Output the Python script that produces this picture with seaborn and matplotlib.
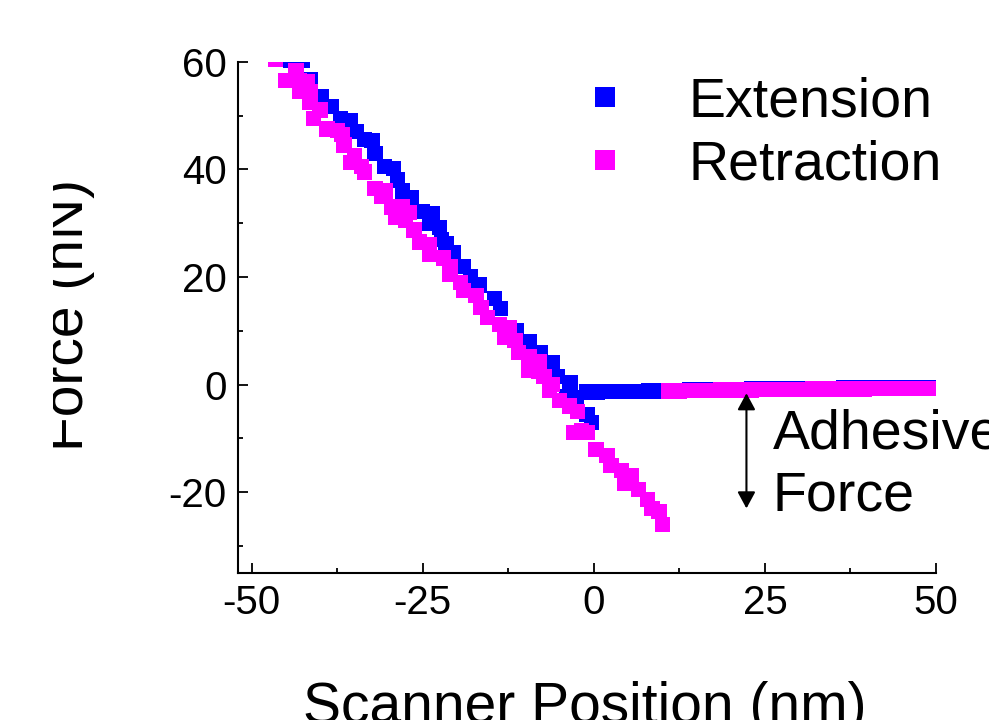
import numpy as np
import pandas as pd
import matplotlib
matplotlib.use('Agg')

import matplotlib.pyplot as plt
import seaborn as sns
from matplotlib.lines import Line2D
from matplotlib.ticker import MultipleLocator
from matplotlib.transforms import Bbox, TransformedBbox

# ================= DATA =================

# Extension (approach) curve: contact part, then the flat part
ext_x = [-44.3, -42.6, -41.5, -39.8, -38.3, -37.0, -35.6, -34.7, -33.5, -32.4,
         -32.0, -30.6, -29.3, -28.7, -28.0, -26.7, -25.0, -23.6, -24.0, -22.6,
         -22.3, -21.6, -20.5, -19.0, -18.0, -16.8, -14.5, -13.6, -11.4, -9.5,
         -7.8, -6.0, -5.3, -3.5, -4.0, -2.6, -2.5, -1.0, -0.3,
         -1.0, 0.5, 2.0, 3.5, 5.0, 6.5, 8.0, 9.5, 11.0, 12.5,
         14.0, 15.5, 17.0, 18.5, 20.0, 21.5, 23.0, 24.5, 26.0, 27.5,
         29.0, 30.5, 32.0, 33.5, 35.0, 36.5, 38.0, 39.5, 41.0, 42.5,
         44.0, 45.5, 47.0, 48.0, 49.0]
ext_f = [60.3, 60.3, 56.6, 53.5, 51.7, 49.5, 49.0, 47.0, 45.5, 45.3,
         43.0, 40.5, 40.2, 38.0, 36.0, 34.7, 32.2, 31.8, 30.0, 29.2,
         27.0, 26.2, 24.5, 22.0, 20.0, 18.5, 16.0, 14.2, 10.1, 8.0,
         6.0, 4.0, 1.5, 0.3, -2.3, -2.5, -3.6, -5.5, -7.0,
         -1.4, -1.4, -1.3, -1.3, -1.3, -1.3, -1.2, -1.2, -1.1, -1.1,
         -1.0, -1.0, -1.0, -0.9, -0.9, -0.9, -0.8, -0.8, -0.8, -0.8,
         -0.7, -0.7, -0.7, -0.7, -0.7, -0.6, -0.6, -0.6, -0.6, -0.6,
         -0.6, -0.6, -0.6, -0.6, -0.6]

# Retraction curve: contact part down to pull-off, then the flat part
ret_x = [-46.5, -45.0, -43.5, -43.0, -41.8, -43.0, -41.5, -41.5, -40.0, -41.0,
         -39.0, -37.5, -36.8, -36.5, -35.0, -35.5, -34.0, -33.5, -32.0, -30.5,
         -31.0, -29.5, -28.0, -27.0, -29.0, -27.5, -26.3, -25.5, -24.0, -24.0,
         -22.0, -21.0, -21.0, -19.5, -19.0, -17.2, -16.5, -15.5, -13.8, -12.3,
         -13.0, -11.5, -11.0, -9.5, -8.0, -9.5, -8.0, -7.3, -6.0, -6.5,
         -5.0, -3.6, -2.4, -2.9, -1.8, -0.9, 0.3, 1.9, 2.5, 4.0,
         5.5, 4.5, 6.5, 7.8, 8.5, 9.5, 10.0,
         11.0, 12.5, 14.0, 15.5, 17.0, 18.5, 20.0, 21.5, 23.0, 24.5,
         26.0, 27.5, 29.0, 30.5, 32.0, 33.5, 35.0, 36.5, 38.0, 39.5,
         41.0, 42.5, 44.0, 45.5, 47.0, 48.0, 49.0]
ret_f = [60.4, 56.5, 58.3, 56.5, 56.2, 54.5, 54.5, 52.5, 51.0, 49.5,
         47.5, 47.2, 46.5, 44.5, 42.5, 41.3, 40.5, 39.5, 36.5, 36.0,
         35.0, 33.0, 33.0, 32.0, 31.0, 30.5, 28.7, 26.5, 26.0, 24.3,
         23.5, 22.0, 20.5, 19.0, 17.5, 16.5, 14.3, 12.5, 11.2, 10.5,
         8.7, 8.2, 6.0, 5.2, 4.3, 2.7, 2.5, 1.5, 0.0, -1.0,
         -3.0, -4.0, -5.0, -8.9, -8.6, -8.9, -12.0, -13.2, -15.0, -16.0,
         -17.0, -18.3, -19.5, -21.3, -23.0, -23.6, -26.0,
         -1.2, -1.2, -1.1, -1.1, -1.1, -1.0, -1.0, -1.0, -1.0, -0.9,
         -0.9, -0.9, -0.9, -0.9, -0.8, -0.8, -0.8, -0.8, -0.8, -0.8,
         -0.7, -0.7, -0.7, -0.7, -0.7, -0.7, -0.7]

SERIES = ['Extension', 'Retraction']
PALETTE = {'Extension': '#0000FF', 'Retraction': '#FF00FF'}

X_TICKS = [-50, -25, 0, 25, 50]
Y_TICKS = [-20, 0, 20, 40, 60]

df = pd.concat([
    pd.DataFrame({'pos': ext_x, 'force': ext_f, 'series': 'Extension'}),
    pd.DataFrame({'pos': ret_x, 'force': ret_f, 'series': 'Retraction'}),
], ignore_index=True)

# ================= STYLE =================

sns.set_style('ticks')
plt.rcParams['font.family'] = ['Liberation Sans', 'DejaVu Sans']
plt.rcParams['axes.unicode_minus'] = False
plt.rcParams['text.color'] = 'black'
plt.rcParams['axes.labelcolor'] = 'black'
plt.rcParams['xtick.color'] = 'black'
plt.rcParams['ytick.color'] = 'black'
plt.rcParams['axes.linewidth'] = 1.5

W, H = 989, 720
fig = plt.figure(figsize=(W / 100, H / 100), dpi=100)
ax = fig.add_axes([238 / W, 1 - 573 / H, (936 - 238) / W, (573 - 61.7) / H])

# ================= SCATTER =================

sns.scatterplot(
    data=df,
    x='pos',
    y='force',
    hue='series',
    hue_order=SERIES,
    palette=PALETTE,
    marker='s',
    s=122,
    linewidth=0,
    legend=False,
    ax=ax
)

ax.set_xlim(-52, 50)
ax.set_ylim(-35, 60)

ax.set_xticks(X_TICKS)
ax.set_yticks(Y_TICKS)
ax.xaxis.set_minor_locator(MultipleLocator(12.5))
ax.yaxis.set_minor_locator(MultipleLocator(10))

ax.tick_params(which='both', direction='in', width=1.3, colors='black')
ax.tick_params(which='major', length=7, labelsize=29, pad=8)
ax.tick_params(which='minor', length=3.6)

sns.despine(ax=ax)
for sp in ['left', 'bottom']:
    ax.spines[sp].set_color('black')
    ax.spines[sp].set_linewidth(1.5)

ax.set_xlabel('')
ax.set_ylabel('')

# ================= LABELS =================

fig.text(585 / W, 1 - 723 / H, 'Scanner Position (nm)',
         fontsize=41, ha='center', va='baseline')

ylab = fig.text(83 / W, 1 - 315 / H, 'Force (nN)', fontsize=41,
                rotation=90, rotation_mode='anchor',
                ha='center', va='baseline')
ylab.set_clip_box(TransformedBbox(Bbox.from_extents(53 / W, 0, 1, 1),
                                  fig.transFigure))
ylab.set_clip_on(True)

# ================= LEGEND =================

handles = [
    Line2D([], [], marker='s', ls='', color=PALETTE[s], markersize=14.5,
           markeredgewidth=0)
    for s in SERIES
]

ax.legend(
    handles,
    SERIES,
    loc='center left',
    bbox_to_anchor=(577 / W, 1 - 134 / H),
    bbox_transform=fig.transFigure,
    frameon=False,
    fontsize=40,
    borderpad=0,
    borderaxespad=0,
    handlelength=1.0,
    handletextpad=1.0,
    labelspacing=0.21
)

# ================= ADHESIVE FORCE ARROW =================

ax.annotate(
    '',
    xy=(22.3, -1.6),
    xytext=(22.3, -23.0),
    arrowprops=dict(arrowstyle='<|-|>,head_length=0.5,head_width=0.27',
                    color='black', lw=1.5, mutation_scale=20,
                    shrinkA=0, shrinkB=0),
    annotation_clip=False
)

ax.text(26.1, -11.8, 'Adhesive', fontsize=40, ha='left', va='baseline',
        clip_on=False)
ax.text(26.1, -23.4, 'Force', fontsize=40, ha='left', va='baseline',
        clip_on=False)

fig.savefig('out.png', dpi=100)
plt.close(fig)
